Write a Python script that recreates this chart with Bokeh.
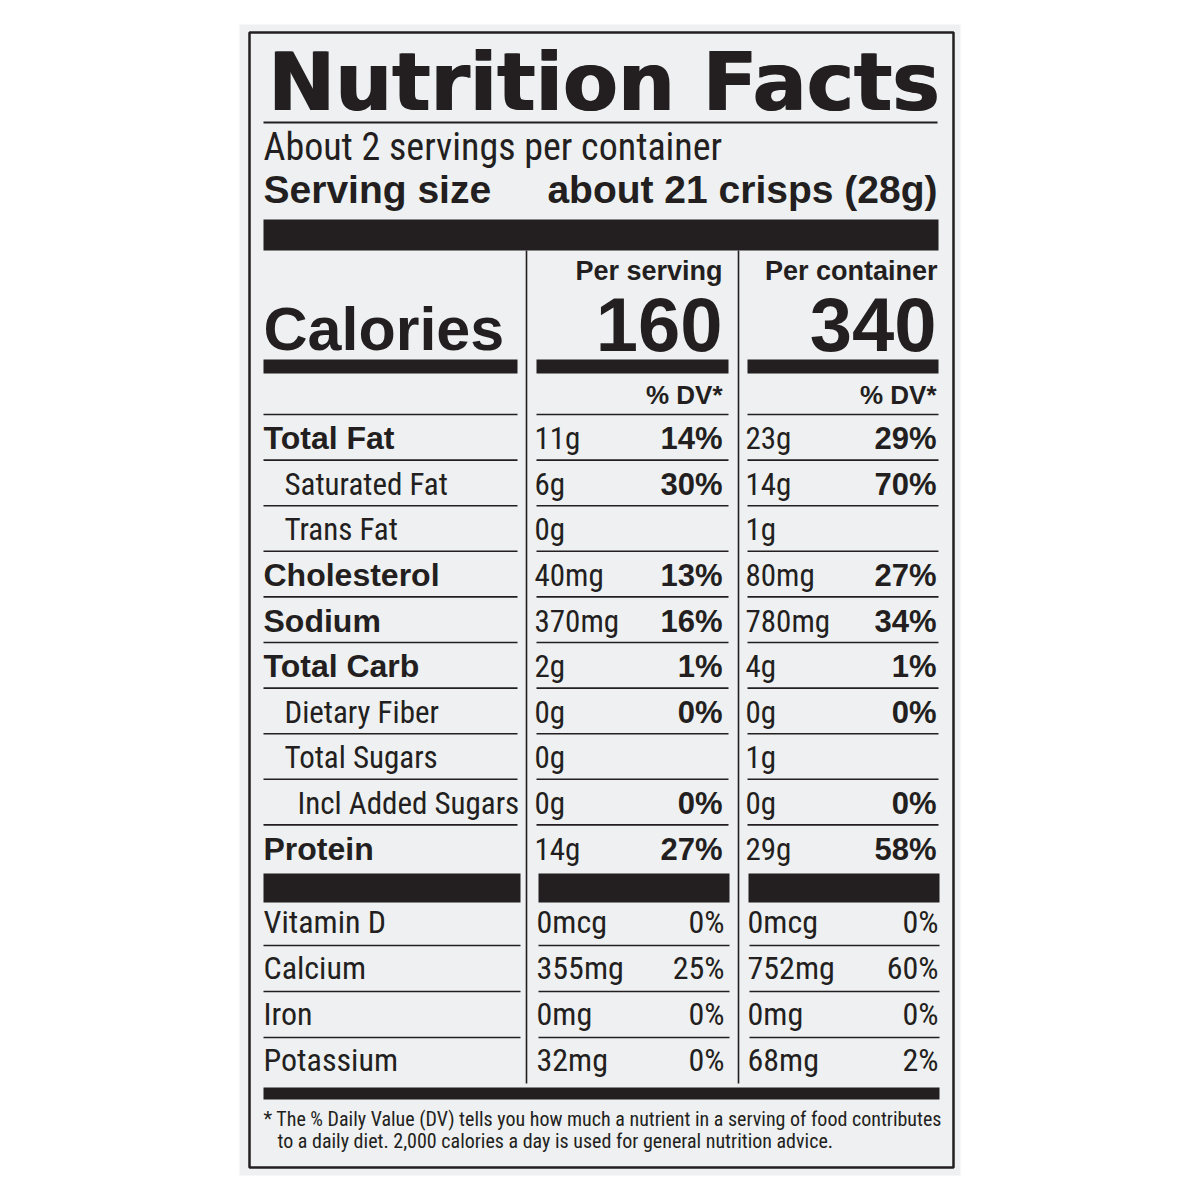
from bokeh.plotting import figure
from bokeh.models import Range1d, ColumnDataSource
from bokeh.core.properties import value
from bokeh.embed import file_html
from bokeh.resources import INLINE

# ---------------- data ----------------
title = "Nutrition Facts"
servings_text = "About 2 servings per container"
serving_size_label = "Serving size"
serving_size_value = "about 21 crisps (28g)"
col_headers = ["Per serving", "Per container"]
calories_label = "Calories"
calories = ["160", "340"]
dv_header = "% DV*"

nutrients = ["Total Fat", "Saturated Fat", "Trans Fat", "Cholesterol", "Sodium",
             "Total Carb", "Dietary Fiber", "Total Sugars", "Incl Added Sugars", "Protein"]
per_serving_amount = ["11g", "6g", "0g", "40mg", "370mg", "2g", "0g", "0g", "0g", "14g"]
per_serving_dv = ["14%", "30%", "", "13%", "16%", "1%", "0%", "", "0%", "27%"]
per_container_amount = ["23g", "14g", "1g", "80mg", "780mg", "4g", "0g", "1g", "0g", "29g"]
per_container_dv = ["29%", "70%", "", "27%", "34%", "1%", "0%", "", "0%", "58%"]
bold_nutrients = ["Total Fat", "Cholesterol", "Sodium", "Total Carb", "Protein"]
sub_nutrients = ["Saturated Fat", "Trans Fat", "Dietary Fiber", "Total Sugars"]
subsub_nutrients = ["Incl Added Sugars"]

vitamins = ["Vitamin D", "Calcium", "Iron", "Potassium"]
vit_serving_amount = ["0mcg", "355mg", "0mg", "32mg"]
vit_serving_dv = ["0%", "25%", "0%", "0%"]
vit_container_amount = ["0mcg", "752mg", "0mg", "68mg"]
vit_container_dv = ["0%", "60%", "0%", "2%"]

footnote = ["* The % Daily Value (DV) tells you how much a nutrient in a serving of food contributes",
            "to a daily diet. 2,000 calories a day is used for general nutrition advice."]

# ---------------- style ----------------
INK = "#231f20"
PAPER = "#eef0f1"
HEAVY = "DejaVu Sans"
BOLD = "Liberation Sans"
NARROW = "Roboto Condensed"
BASE_K = 0.35  # baseline correction (fraction of font size)

W = H = 1180
p = figure(width=W, height=H, x_range=Range1d(0, W), y_range=Range1d(H, 0),
           output_backend="svg", toolbar_location=None, min_border=0,
           x_axis_location=None, y_axis_location=None,
           outline_line_color=None, background_fill_color="white",
           border_fill_color="white")
p.grid.visible = False


def txt(x, y, t, font, size, bold=False, align="left"):
    y = [v - BASE_K * size for v in y]
    src = ColumnDataSource(dict(x=list(x), y=list(y), t=list(t)))
    p.text(x="x", y="y", text="t", source=src, text_font=value(font),
           text_font_size=f"{size}px", text_font_style="bold" if bold else "normal",
           text_align=align, text_baseline="alphabetic", text_color=INK)


def bars(l, r, t, b):
    p.quad(left=l, right=r, top=t, bottom=b, fill_color=INK, line_color=None)


def rules(x0, x1, y, w=1.6):
    p.segment(x0=x0, x1=x1, y0=y, y1=y, line_color=INK, line_width=w)


# paper and border
p.quad(left=[239], right=[960], top=[24], bottom=[1175], fill_color=PAPER, line_color=None)
p.quad(left=[249], right=[953], top=[32], bottom=[1167], fill_color=None,
       line_color=INK, line_width=2.5)

# column geometry
L0, L1 = 263, 517
M0, M1 = 536, 728
R0, R1 = 747, 938
MID_X, RIGHT_X = 722, 936
DIV1, DIV2 = 526, 738

# header (drawn twice with a small offset for a heavier weight)
txt([267, 268.5], [110, 110], [title, title], HEAVY, 80, bold=True)
rules([263], [937], [122], 1.8)
txt([263], [160], [servings_text], NARROW, 38)
txt([263], [203], [serving_size_label], BOLD, 39, bold=True)
txt([937], [203], [serving_size_value], BOLD, 39, bold=True, align="right")
bars([263], [938], [219], [250])

# column dividers
p.segment(x0=[DIV1, DIV2], x1=[DIV1, DIV2], y0=[250, 250], y1=[1083, 1083],
          line_color=INK, line_width=1.6)

# calories block
txt([MID_X, 937], [280, 280], col_headers, BOLD, 27, bold=True, align="right")
txt([263], [350], [calories_label], BOLD, 61, bold=True)
txt([MID_X, RIGHT_X], [351, 351], calories, BOLD, 76, bold=True, align="right")
bars([L0, M0, R0], [L1, M1, R1], [359] * 3, [373] * 3)
txt([MID_X, RIGHT_X], [404, 404], [dv_header, dv_header], BOLD, 26, bold=True, align="right")

# nutrient table
PITCH = 45.6
TOP_RULE = 414
n = len(nutrients)
rule_y = [TOP_RULE + PITCH * k for k in range(n)]
rules([L0] * n, [L1] * n, rule_y)
rules([M0] * n, [M1] * n, rule_y)
rules([R0] * n, [R1] * n, rule_y)

base_y = [TOP_RULE + 35 + PITCH * i for i in range(n)]
label_x = [263 + (34 if nm in subsub_nutrients else 21 if nm in sub_nutrients else 0)
           for nm in nutrients]
bold_idx = [i for i, nm in enumerate(nutrients) if nm in bold_nutrients]
reg_idx = [i for i, nm in enumerate(nutrients) if nm not in bold_nutrients]

txt([label_x[i] for i in bold_idx], [base_y[i] for i in bold_idx],
    [nutrients[i] for i in bold_idx], BOLD, 32, bold=True)
txt([label_x[i] for i in reg_idx], [base_y[i] for i in reg_idx],
    [nutrients[i] for i in reg_idx], NARROW, 31)
txt([534] * n, base_y, per_serving_amount, NARROW, 31)
txt([745] * n, base_y, per_container_amount, NARROW, 31)
txt([MID_X] * n, base_y, per_serving_dv, BOLD, 31, bold=True, align="right")
txt([RIGHT_X] * n, base_y, per_container_dv, BOLD, 31, bold=True, align="right")

# vitamin block
bars([L0, M0 + 2, R0 + 1], [L1 + 3, M1 + 1, R1 + 1], [873] * 3, [902] * 3)
VP = 46
m = len(vitamins)
vbase = [933 + VP * i for i in range(m)]
vrule = [945 + VP * i for i in range(m - 1)]
rules([L0] * (m - 1), [L1 + 3] * (m - 1), vrule)
rules([M0 + 2] * (m - 1), [M1 + 1] * (m - 1), vrule)
rules([R0 + 2] * (m - 1), [R1 + 1] * (m - 1), vrule)
txt([263] * m, vbase, vitamins, NARROW, 32)
txt([536] * m, vbase, vit_serving_amount, NARROW, 32)
txt([747] * m, vbase, vit_container_amount, NARROW, 32)
txt([MID_X + 2] * m, vbase, vit_serving_dv, NARROW, 32, align="right")
txt([RIGHT_X + 2] * m, vbase, vit_container_dv, NARROW, 32, align="right")

bars([263], [939], [1087], [1099])

# footnote
txt([263, 277], [1125, 1147], footnote, NARROW, 20)

open("out.html", "w").write(file_html(p, INLINE))
